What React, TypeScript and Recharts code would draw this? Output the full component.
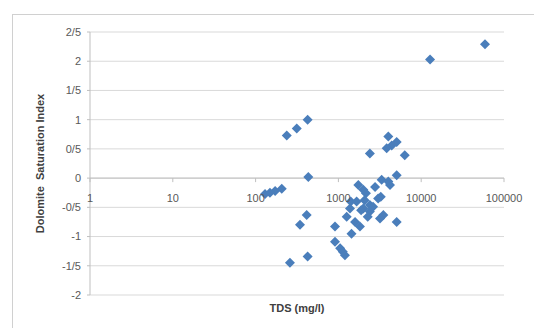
import { CartesianGrid, ReferenceLine, Scatter, ScatterChart, XAxis, YAxis } from 'recharts'

const tds = [
  59000, 12800,
  425, 314, 238, 433, 207, 172, 149, 130, 414, 344, 260, 425,
  4010, 4400, 5060, 3830, 2400, 6330, 5060, 3330, 4010, 4200, 2770, 1740,
  2000, 2150, 3250, 3020, 1410, 1660, 2070, 2400, 2620, 2000, 1380, 1880,
  2400, 3490, 3180, 1260, 2260, 5060, 1590, 1820, 910, 1440, 910, 1050,
  1200, 1130,
]
const dsi = [
  2.29, 2.03,
  1.0, 0.85, 0.73, 0.02, -0.18, -0.22, -0.25, -0.27, -0.63, -0.8, -1.45, -1.34,
  0.71, 0.56, 0.62, 0.51, 0.42, 0.39, 0.05, -0.03, -0.06, -0.12, -0.15, -0.12,
  -0.2, -0.26, -0.32, -0.35, -0.4, -0.4, -0.38, -0.46, -0.49, -0.52, -0.52, -0.55,
  -0.57, -0.63, -0.69, -0.66, -0.66, -0.75, -0.75, -0.83, -0.83, -0.95, -1.09, -1.2,
  -1.32, -1.26,
]
const xTicks = [1, 10, 100, 1000, 10000, 100000]
const yTicks = [-2, -1.5, -1, -0.5, 0, 0.5, 1, 1.5, 2, 2.5]

const data = tds.map((t, i) => ({ tds: t, dsi: dsi[i] }))

const W = 534
const H = 328
const TOP = 32
const BOTTOM = 33
const PLOT_H = H - TOP - BOTTOM
const ZERO_Y = TOP + (PLOT_H * 2.5) / 4.5
const FONT = '"Liberation Sans", Arial, sans-serif'

const fmtY = (v: number) => String(v).replace('.', '/')

function XTick({ x, payload }: any) {
  return (
    <g>
      <line x1={x} x2={x} y1={ZERO_Y} y2={ZERO_Y + 4} stroke="#bfbfbf" />
      <text
        x={x}
        y={ZERO_Y + 24}
        textAnchor="middle"
        fontSize={11}
        fontFamily={FONT}
        fill="#595959"
      >
        {payload.value}
      </text>
    </g>
  )
}

function Diamond({ cx, cy }: any) {
  const r = 5
  return (
    <polygon
      points={`${cx},${cy - r} ${cx + r},${cy} ${cx},${cy + r} ${cx - r},${cy}`}
      fill="#4A7EBB"
    />
  )
}

export default function App() {
  return (
    <div
      style={{
        position: 'fixed',
        left: 0,
        top: 0,
        width: W,
        height: H,
        overflow: 'hidden',
        background: '#fff',
      }}
    >
      <div
        style={{
          position: 'absolute',
          left: 12,
          top: 14,
          width: 540,
          height: 340,
          border: '1px solid #d0d0d0',
        }}
      />
      <div style={{ position: 'absolute', left: 0, top: 0 }}>
        <ScatterChart
          width={W}
          height={H}
          margin={{ top: TOP, right: 30, bottom: 3, left: 12 }}
        >
          <CartesianGrid vertical={false} stroke="#d9d9d9" />
          <XAxis
            type="number"
            dataKey="tds"
            scale="log"
            domain={[1, 100000]}
            ticks={xTicks}
            allowDataOverflow
            axisLine={false}
            tickLine={false}
            tick={<XTick />}
            height={30}
            label={{
              value: 'TDS (mg/l)',
              position: 'insideBottom',
              offset: 13,
              fontSize: 11,
              fontWeight: 700,
              fontFamily: FONT,
              fill: '#404040',
            }}
          />
          <YAxis
            type="number"
            dataKey="dsi"
            domain={[-2, 2.5]}
            ticks={yTicks}
            width={78}
            tickFormatter={fmtY}
            tickSize={3}
            tickMargin={6}
            axisLine={{ stroke: '#bfbfbf' }}
            tickLine={{ stroke: '#bfbfbf' }}
            tick={{ fontSize: 11, fontFamily: FONT, fill: '#595959' }}
            label={{
              value: 'Dolomite\u00a0\u00a0Saturation Index',
              angle: -90,
              position: 'insideLeft',
              offset: 28,
              fontSize: 11,
              fontWeight: 700,
              fontFamily: FONT,
              fill: '#404040',
              style: { textAnchor: 'middle' },
            }}
          />
          <ReferenceLine y={0} stroke="#bfbfbf" />
          <Scatter data={data} shape={<Diamond />} isAnimationActive={false} />
        </ScatterChart>
      </div>
    </div>
  )
}
